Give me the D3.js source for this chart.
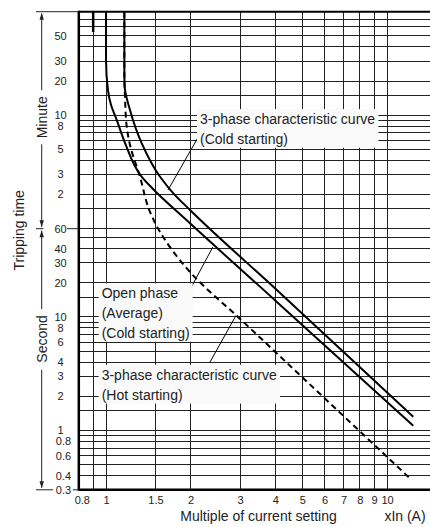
<!DOCTYPE html>
<html>
<head>
<meta charset="utf-8">
<script src="https://cdn.jsdelivr.net/npm/d3@7"></script>
<style>
  body { margin: 0; background: #fff; }
  svg { display: block; font-family: "Liberation Sans", Arial, Helvetica, sans-serif; }
</style>
</head>
<body>
<div id="chart"></div>
<script>
// multiple of current setting (x) / tripping time in seconds (y)
var xTicks = [0.8, 1, 1.5, 2, 3, 4, 5, 6, 7, 8, 9, 10, 15];
var xGrid = [0.9, 1, 1.5, 2, 3, 4, 5, 6, 7, 8, 9, 10];
var secGrid = [0.3, 0.4, 0.5, 0.6, 0.7, 0.8, 0.9, 1, 1.5, 2, 3, 4, 5, 6, 7, 8, 9, 10, 15, 20, 30, 40, 50, 60];
var minGrid = [1.5, 2, 3, 4, 5, 6, 7, 8, 9, 10, 15, 20, 30, 40, 50, 60, 70];
var minuteLabels = [50, 30, 20, 10, 8, 5, 3, 2];
var secondLabels = [60, 40, 30, 20, 10, 8, 6, 4, 3, 2, 1, 0.8, 0.6, 0.4, 0.3];

// curves: [multiple, seconds]
var coldCurve = [[1.162, 4900], [1.162, 1500], [1.164, 1100], [1.217, 666], [1.34, 339], [1.557, 172],
  [1.736, 123], [1.99, 87.7], [4, 17.8], [12.4, 1.32]];
var openCurve = [[1.0, 4900], [1.0, 1840], [1.016, 1000], [1.042, 738], [1.092, 544], [1.169, 341],
  [1.34, 172], [1.458, 137], [1.99, 66.9], [4, 14.0], [12.4, 1.10]];
var hotCurve = [[1.162, 4900], [1.162, 1500], [1.169, 817], [1.183, 492], [1.217, 328], [1.321, 172],
  [1.434, 84.2], [1.557, 56.1], [1.718, 38.9], [1.99, 24.9], [3, 9.62], [6, 1.92], [12.24, 0.366]];
var stubCurve = [[0.9, 4900], [0.9, 3250]];

// annotations: text anchor and leader in data units
var notes = [
  { lines: ["3-phase characteristic curve", "(Cold starting)"], at: [2.16, 501], from: [2.11, 370], to: [1.662, 131.5] },
  { lines: ["Open phase", "(Average)", "(Cold starting)"], at: [0.965, 14.6], from: [1.942, 15.6], to: [2.40, 41.4] },
  { lines: ["3-phase characteristic curve", "(Hot starting)"], at: [0.965, 2.79], from: [2.345, 4.01], to: [2.90, 10.3] }
];

var W = 430, H = 527;
var tTop = 4900, tBot = 0.3, xLeft = 0.8;

var svg = d3.select("#chart").append("svg").attr("width", W).attr("height", H);

var x = d3.scaleLog().domain([0.8, 15]).range([78.8, 436.5]);
var y = d3.scaleLog().domain([tBot, tTop]).range([489.8, 11.7]);

// grid
var hLines = secGrid.concat(minGrid.map(function (m) { return m * 60; }));
var grid = svg.append("g").attr("shape-rendering", "crispEdges");
grid.selectAll(".h").data(hLines).enter().append("line")
  .attr("x1", x(xLeft)).attr("x2", W)
  .attr("y1", function (d) { return y(d); })
  .attr("y2", function (d) { return y(d); })
  .attr("stroke", "#222").attr("stroke-width", 1);
grid.selectAll(".v").data(xGrid).enter().append("line")
  .attr("x1", function (d) { return x(d); })
  .attr("x2", function (d) { return x(d); })
  .attr("y1", y(tTop)).attr("y2", y(tBot))
  .attr("stroke", "#222").attr("stroke-width", 1);

// curves
var line = d3.line()
  .x(function (d) { return x(d[0]); })
  .y(function (d) { return y(d[1]); })
  .curve(d3.curveMonotoneY);

svg.append("path").attr("d", line(openCurve)).attr("fill", "none").attr("stroke", "#000").attr("stroke-width", 2);
svg.append("path").attr("d", line(coldCurve)).attr("fill", "none").attr("stroke", "#000").attr("stroke-width", 2);
svg.append("path").attr("d", line(hotCurve)).attr("fill", "none").attr("stroke", "#000").attr("stroke-width", 2)
  .attr("stroke-dasharray", "6,4");
svg.append("path").attr("d", d3.line().x(function (d) { return x(d[0]); }).y(function (d) { return y(d[1]); })(stubCurve))
  .attr("fill", "none").attr("stroke", "#000").attr("stroke-width", 2.5);

// annotations
notes.forEach(function (n) {
  svg.append("line")
    .attr("x1", x(n.from[0])).attr("y1", y(n.from[1]))
    .attr("x2", x(n.to[0])).attr("y2", y(n.to[1]))
    .attr("stroke", "#000").attr("stroke-width", 1);
  var g = svg.append("g");
  var rect = g.append("rect").attr("fill", "#fafafa");
  var txt = g.append("text")
    .attr("x", x(n.at[0])).attr("y", y(n.at[1]))
    .attr("font-size", "14px").attr("fill", "#222");
  n.lines.forEach(function (s, i) {
    txt.append("tspan").attr("x", x(n.at[0])).attr("dy", i === 0 ? 0 : 19.7).text(s);
  });
  var b = txt.node().getBBox();
  rect.attr("x", b.x - 3).attr("y", b.y - 2).attr("width", b.width + 6).attr("height", b.height + 3);
});

// frame
svg.append("line").attr("x1", x(xLeft)).attr("x2", W).attr("y1", y(tTop)).attr("y2", y(tTop))
  .attr("stroke", "#000").attr("stroke-width", 2);
svg.append("line").attr("x1", x(xLeft)).attr("x2", W).attr("y1", y(tBot)).attr("y2", y(tBot))
  .attr("stroke", "#000").attr("stroke-width", 2.5);
svg.append("line").attr("x1", x(xLeft)).attr("x2", x(xLeft)).attr("y1", y(tTop) - 1).attr("y2", y(tBot) + 1)
  .attr("stroke", "#000").attr("stroke-width", 2.5);

// x tick labels
var xAxis = d3.axisBottom(x).tickValues(xTicks).tickSize(0).tickPadding(6)
  .tickFormat(function (d) { return String(d); });
var xg = svg.append("g").attr("transform", "translate(0," + y(tBot) + ")").call(xAxis);
xg.select(".domain").remove();
xg.selectAll("text").attr("font-size", "11px").attr("font-family", null).attr("fill", "#222")
  .attr("dx", function (d) { return d === xLeft ? 3 : 0; });

// y tick labels
var labX = function (v) { return v < 1 ? 63.5 : 60.5; };
svg.append("g").selectAll("text").data(minuteLabels).enter().append("text")
  .attr("x", labX).attr("y", function (d) { return y(d * 60); }).attr("dy", "0.36em")
  .attr("text-anchor", "middle").attr("font-size", "11px").attr("fill", "#222")
  .text(function (d) { return d; });
svg.append("g").selectAll("text").data(secondLabels).enter().append("text")
  .attr("x", labX).attr("y", function (d) { return y(d); }).attr("dy", "0.36em")
  .attr("text-anchor", "middle").attr("font-size", "11px").attr("fill", "#222")
  .text(function (d) { return d; });

// side ruler: Minute / Second
var rx = 41.7;
var rule = svg.append("g").attr("stroke", "#222").attr("stroke-width", 1);
rule.append("line").attr("x1", 36).attr("x2", x(xLeft)).attr("y1", y(tTop)).attr("y2", y(tTop));
rule.append("line").attr("x1", 36).attr("x2", 43.5).attr("y1", y(60)).attr("y2", y(60));
rule.append("line").attr("x1", 67).attr("x2", x(xLeft)).attr("y1", y(60)).attr("y2", y(60));
rule.append("line").attr("x1", 36).attr("x2", 53).attr("y1", y(tBot)).attr("y2", y(tBot));
rule.append("line").attr("x1", 73).attr("x2", x(xLeft)).attr("y1", y(tBot)).attr("y2", y(tBot));

function sideLabel(label, yc, bx) {
  var t = svg.append("text").attr("transform", "translate(" + bx + "," + yc + ") rotate(-90)")
    .attr("text-anchor", "middle").attr("font-size", "14px").attr("fill", "#222").text(label);
  return t.node().getComputedTextLength();
}
var minY = y(575), secY = y(6.4);
var minLen = sideLabel("Minute", minY, 46.5);
var secLen = sideLabel("Second", secY, 46.5);
sideLabel("Tripping time", y(58), 24);

var segs = [
  [y(tTop) + 2, minY - minLen / 2 - 6],
  [minY + minLen / 2 + 6, y(60) - 2],
  [y(60) + 2, secY - secLen / 2 - 6],
  [secY + secLen / 2 + 7, y(tBot) - 2]
];
segs.forEach(function (s) {
  rule.append("line").attr("x1", rx).attr("x2", rx).attr("y1", s[0]).attr("y2", s[1]);
});
function arrow(tipY, dir) {
  svg.append("path")
    .attr("d", "M" + rx + "," + tipY + "L" + (rx - 2.2) + "," + (tipY + dir * 7) + "L" + (rx + 2.2) + "," + (tipY + dir * 7) + "Z")
    .attr("fill", "#222");
}
arrow(y(tTop) + 1, 1);
arrow(y(60) - 1.5, -1);
arrow(y(60) + 1.5, 1);
arrow(y(tBot) - 1.5, -1);

// x titles
svg.append("text").attr("x", 258.5).attr("y", 521).attr("text-anchor", "middle")
  .attr("font-size", "14px").attr("fill", "#222").text("Multiple of current setting");
svg.append("text").attr("x", 405).attr("y", 521).attr("text-anchor", "middle")
  .attr("font-size", "14px").attr("fill", "#222").text("xIn (A)");
</script>
</body>
</html>
